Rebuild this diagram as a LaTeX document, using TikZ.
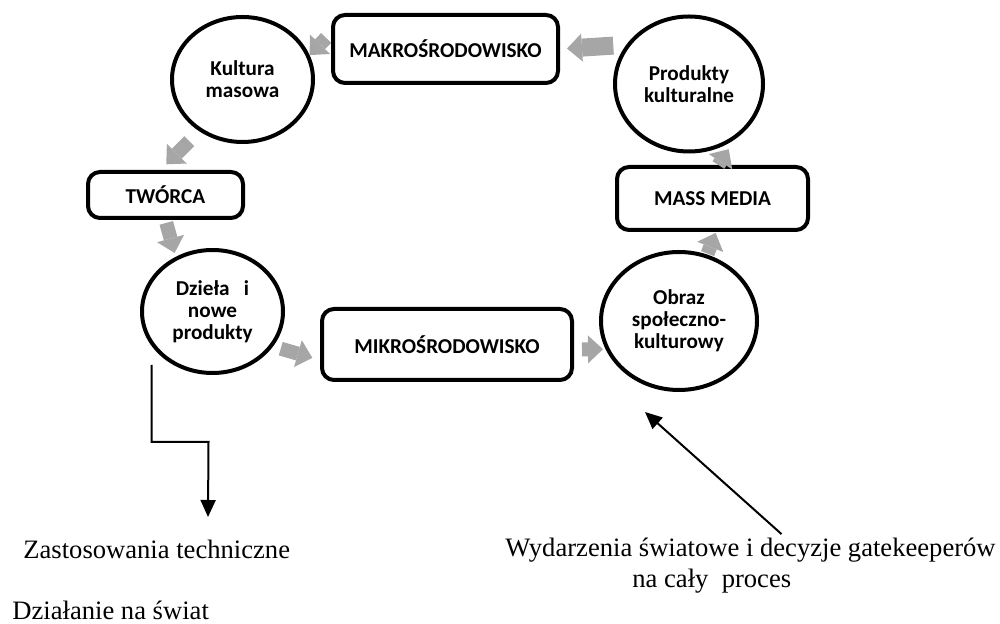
\documentclass[tikz,border=0pt]{standalone}
\usepackage{fontspec}
\setmainfont{Liberation Serif}
\newfontfamily\calibri{Carlito}
\usepackage{xcolor}
\usetikzlibrary{shapes.geometric,arrows.meta}
\definecolor{arrowgray}{RGB}{166,166,166}
\tikzstyle{stagebox} = [draw=black, line width=2pt, rectangle, rounded corners=6pt,
inner sep=0pt, font=\calibri\bfseries\fontsize{10.6}{11}\selectfont]
\tikzstyle{stagecircle} = [draw=black, line width=2pt, ellipse, inner sep=0pt,
align=center, font=\calibri\bfseries\fontsize{10.6}{11}\selectfont]
\tikzstyle{flowarrow} = [draw=arrowgray, line width=7pt,
-{Triangle[length=7.5pt,width=14pt,line width=0pt]}]
\tikzstyle{thinarrow} = [draw=black, line width=1pt, -{Triangle[length=8.5pt,width=7.5pt]}]
\tikzstyle{note} = [inner sep=0pt, anchor=base west, font=\fontsize{13.3}{15}\selectfont]

\begin{document}
\begin{tikzpicture}[x=0.5pt,y=-0.5pt]
    \useasboundingbox (0,0) rectangle (1000,624);
    % the cycle
    \node[stagebox, minimum width=112.5pt, minimum height=34pt] (makro) at (445.5,49) {MAKROŚRODOWISKO};
    \node[stagecircle, minimum width=70.5pt, minimum height=62.5pt] (kultura) at (242.5,79.5) {Kultura\\masowa};
    \node[stagebox, minimum width=77.5pt, minimum height=23pt] (tworca) at (165.5,195) {TWÓRCA};
    \node[stagecircle, minimum width=70.5pt, minimum height=61.5pt] (dziela) at (212.5,311.5) {Dzieła~~~i\\nowe\\produkty};
    \node[stagebox, minimum width=125pt, minimum height=35.5pt] (mikro) at (447,344.5) {MIKROŚRODOWISKO};
    \node[stagecircle, minimum width=78pt, minimum height=69pt] (obraz) at (679,321) {Obraz\\społeczno-\\kulturowy};
    \node[stagebox, minimum width=95.5pt, minimum height=31.5pt] (media) at (712.5,198.5) {MASS MEDIA};
    \node[stagecircle, minimum width=74pt, minimum height=67.5pt] (produkty) at (689,84) {Produkty\\kulturalne};

    \draw[flowarrow, shorten <=3.5pt] (makro.172) -- (kultura.20);
    \draw[flowarrow, shorten <=7pt, shorten >=4pt] (kultura.230) -- (tworca.101);
    \draw[flowarrow, shorten <=1.5pt, shorten >=2pt] (tworca.south) -- (dziela.124);
    \draw[flowarrow, shorten <=4pt, shorten >=4pt] (dziela.330) -- (mikro.187);
    \draw[flowarrow, shorten <=4pt, shorten >=1.3pt] ([yshift=-2.5pt]mikro.east) -- (obraz.201);
    \draw[flowarrow, shorten <=0.5pt, shorten >=0.5pt] (obraz.67) -- (media.276);
    \draw[flowarrow, shorten >=6pt] (media.80) -- (produkty.310);
    \draw[flowarrow, line width=9pt, shorten <=6.5pt, shorten >=3.5pt] (produkty.148) -- (makro.east);

    % outside influences
    \node[note] (zast) at (23,558) {Zastosowania techniczne};
    \node[note] (dzialanie) at (12,619) {Działanie na świat};
    \node[note] (wyd) at (505,556) {Wydarzenia światowe i decyzje gatekeeperów};
    \node[note] (proces) at (632,587) {na cały\ \ proces};
    \coordinate (zastarrow) at (208,517);
    \coordinate (gatetip) at (645,412);
    \draw[thinarrow] ([shift={(-61,-10)}]dziela.south) |- ++(57,77) -- (zastarrow);
    \draw[thinarrow] ([xshift=15.5pt,yshift=1.5pt]wyd.north) -- (gatetip);
\end{tikzpicture}
\end{document}
